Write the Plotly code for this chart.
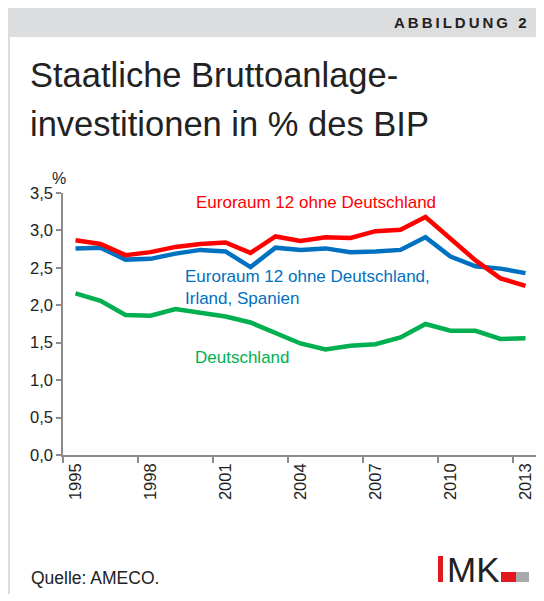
import plotly.graph_objects as go

years = [str(y) for y in range(1995, 2014)]

# Euroraum 12 ohne Deutschland
ez12_ohne_de = [2.87, 2.82, 2.67, 2.71, 2.78, 2.82, 2.84, 2.70, 2.92, 2.86,
                2.91, 2.90, 2.99, 3.01, 3.18, 2.89, 2.60, 2.36, 2.26]
# Euroraum 12 ohne Deutschland, Irland, Spanien
ez12_ohne_de_ie_es = [2.76, 2.77, 2.61, 2.62, 2.69, 2.74, 2.72, 2.51, 2.77, 2.74,
                      2.76, 2.71, 2.72, 2.74, 2.91, 2.65, 2.52, 2.49, 2.43]
# Deutschland
deutschland = [2.16, 2.06, 1.87, 1.86, 1.95, 1.90, 1.85, 1.77, 1.63, 1.49,
               1.41, 1.46, 1.48, 1.57, 1.75, 1.66, 1.66, 1.55, 1.56]

tick_years = ['1995', '1998', '2001', '2004', '2007', '2010', '2013']

RED = '#ff0000'
BLUE = '#0070c0'
GREEN = '#00b050'
FONT = 'Arial, Liberation Sans, sans-serif'

# page offset (browser body margin)
OFF = 8
W, H = 536, 593
L, R, T, B = 55, 6, 185, 146
PW, PH = W - L - R, H - T - B


# page pixel -> paper coords
def px(x):
    return (x - OFF - L) / PW


def py(y):
    return (H - B - (y - OFF)) / PH


fig = go.Figure()
for vals, col in [(deutschland, GREEN), (ez12_ohne_de_ie_es, BLUE), (ez12_ohne_de, RED)]:
    fig.add_trace(go.Scatter(x=years, y=vals, mode='lines',
                             line=dict(color=col, width=4.5), showlegend=False))

header = '<b>' + '\u2009'.join('ABBILDUNG 2') + '</b>'

anns = [
    dict(x=px(529), y=py(22), text=header,
         xanchor='right', yanchor='middle', font=dict(size=15, color='#222', family=FONT)),
    dict(x=px(28), y=py(75), text='Staatliche Bruttoanlage-', xanchor='left', yanchor='middle',
         font=dict(size=34.5, color='#222', family=FONT)),
    dict(x=px(28), y=py(124), text='investitionen in % des BIP', xanchor='left', yanchor='middle',
         font=dict(size=34.5, color='#222', family=FONT)),
    dict(x=px(59), y=py(178), text='%', xanchor='center', yanchor='middle',
         font=dict(size=16, color='#222', family=FONT)),
    dict(x=px(194), y=py(202), text='Euroraum 12 ohne Deutschland', xanchor='left', yanchor='middle',
         font=dict(size=17, color=RED, family=FONT)),
    dict(x=px(183), y=py(287), text='Euroraum 12 ohne Deutschland,<br>Irland, Spanien', xanchor='left',
         yanchor='middle', align='left', font=dict(size=17, color=BLUE, family=FONT)),
    dict(x=px(193), y=py(357), text='Deutschland', xanchor='left', yanchor='middle',
         font=dict(size=17, color=GREEN, family=FONT)),
    dict(x=px(29), y=py(578), text='Quelle: AMECO.', xanchor='left', yanchor='middle',
         font=dict(size=17.5, color='#222', family=FONT)),
    dict(x=px(445), y=py(569), text='MK', xanchor='left', yanchor='middle',
         font=dict(size=35, color='#222', family=FONT)),
]
for a in anns:
    a.update(xref='paper', yref='paper', showarrow=False)


def rect(x0, x1, y0, y1, col):
    return dict(type='rect', xref='paper', yref='paper', x0=px(x0), x1=px(x1), y0=py(y0), y1=py(y1),
                fillcolor=col, line_width=0, layer='below')


shapes = [
    rect(7, 544, 7, 37, '#dcdddf'),    # header band
    rect(7, 10, 37, 594, '#dcdddf'),   # left border
    rect(438, 443, 556, 582, '#e3181f'),  # logo "I"
    rect(501, 516, 572, 582, '#e3181f'),
    rect(516, 529, 572, 582, '#a8a9ad'),
]

fig.update_layout(
    width=W, height=H,
    margin=dict(l=L, r=R, t=T, b=B),
    paper_bgcolor='white', plot_bgcolor='white',
    separators=', ',
    annotations=anns,
    shapes=shapes,
    font=dict(family=FONT, size=16, color='#222'),
    xaxis=dict(type='category', tickmode='array', tickvals=tick_years, ticktext=tick_years,
               tickson='boundaries', ticks='outside', ticklen=6, tickcolor='#8c8c8c', tickwidth=1.5,
               tickangle=-90, showline=True, linecolor='#8c8c8c', linewidth=1.5,
               showgrid=False, zeroline=False, range=[-0.5, 18.5], tickfont=dict(size=16.5)),
    yaxis=dict(range=[0, 3.5], dtick=0.5, tickformat='.1f', ticks='outside', ticklen=5,
               tickcolor='#8c8c8c', tickwidth=1.5, showline=True, linecolor='#8c8c8c', linewidth=1.5,
               showgrid=False, zeroline=False, tickfont=dict(size=16.5)),
)

fig.write_html('out.html')
